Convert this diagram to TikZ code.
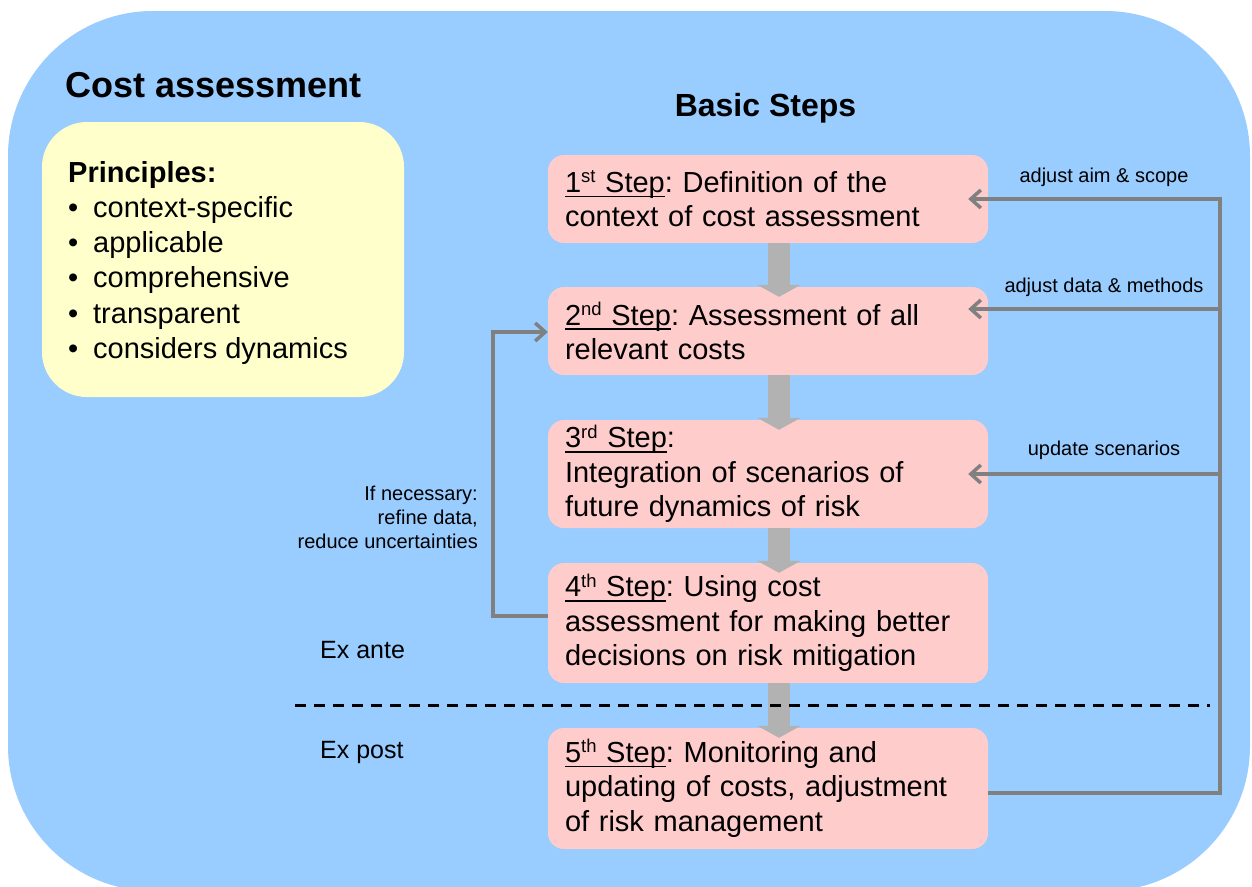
\documentclass[tikz,border=0pt]{standalone}
\usepackage{fontspec}
\setmainfont{Liberation Sans}
\usetikzlibrary{arrows.meta,calc}
\definecolor{bgblue}{HTML}{99CCFF}
\definecolor{boxpink}{HTML}{FFCCCC}
\definecolor{boxyellow}{HTML}{FFFFCC}
\definecolor{thickgray}{HTML}{B2B2B2}
\definecolor{conngray}{HTML}{808080}
\frenchspacing
\newcommand\stepul[1]{\setbox0\hbox{#1}\rlap{\rule[-5pt]{\wd0}{1.8pt}}\box0}
\newcommand\stepsup[1]{\raisebox{9.5pt}{\fontsize{18.5}{18.5}\selectfont #1}}
\begin{document}
\begin{tikzpicture}[x=1pt,y=-1pt,
  stepbox/.style={fill=boxpink, rounded corners=16pt, minimum width=440pt, text width=406pt,
    inner xsep=17pt, inner ysep=0pt, align=left, font=\fontsize{29}{34.5}\selectfont},
  bigarrow/.style={draw=thickgray, line width=22pt, -{Triangle[width=43pt,length=12pt]}},
  conn/.style={draw=conngray, line width=3.5pt},
  connarrow/.style={conn, -{Straight Barb[length=10pt,width=18pt]}},
  lbl/.style={font=\fontsize{20}{24}\selectfont, inner sep=0pt},
  plain/.style={inner sep=0pt},
  item/.style={anchor=base west, inner sep=0pt, font=\fontsize{29}{35}\selectfont},
]
\useasboundingbox (0,0) rectangle (1252,886);
\begin{scope}
  \clip (0,0) rectangle (1252,886);
  \fill[bgblue, rounded corners=145pt] (8,11) rectangle (1250,891);
\end{scope}

% principles box
\fill[boxyellow, rounded corners=45pt] (42,122) rectangle (404,397);
\node[item, font=\bfseries\fontsize{29}{35}\selectfont] (p0) at (68,182) {Principles:};
\node[item] (p1) at (68,217.3) {\makebox[25pt][l]{\textbullet}context-specific};
\node[item] (p2) at (68,252.6) {\makebox[25pt][l]{\textbullet}applicable};
\node[item] (p3) at (68,287.9) {\makebox[25pt][l]{\textbullet}comprehensive};
\node[item] (p4) at (68,323.2) {\makebox[25pt][l]{\textbullet}transparent};
\node[item] (p5) at (68,358.5) {\makebox[25pt][l]{\textbullet}considers dynamics};

% titles
\node[plain, anchor=base west, font=\bfseries\fontsize{36}{40}\selectfont] (title) at (65,97) {Cost assessment};
\node[plain, anchor=base, font=\bfseries\fontsize{32}{36}\selectfont] (basic) at (765.5,116) {Basic Steps};

% step boxes
\node[stepbox, minimum height=88pt] (s1) at (768,199)
  {\stepul{1\stepsup{st} Step}: Definition of the\\context of cost assessment};
\node[stepbox, minimum height=88pt] (s2) at (768,331)
  {\stepul{2\stepsup{nd} Step}: Assessment of all\\relevant costs};
\node[stepbox, minimum height=108pt] (s3) at (768,474)
  {\stepul{3\stepsup{rd} Step}:\\Integration of scenarios of\\future dynamics of risk};
\node[stepbox, minimum height=120pt] (s4) at (768,623)
  {\stepul{4\stepsup{th} Step}: Using cost\\assessment for making better\\decisions on risk mitigation};
\node[stepbox, minimum height=121pt] (s5) at (768,788.5)
  {\stepul{5\stepsup{th} Step}: Monitoring and\\updating of costs, adjustment\\of risk management};

% thick arrows
\draw[bigarrow] ([xshift=11pt]s1.south) -- ([xshift=11pt,yshift=-10pt]s2.north);
\draw[bigarrow] ([xshift=11pt]s2.south) -- ([xshift=11pt,yshift=-10pt]s3.north);
\draw[bigarrow] ([xshift=11pt]s3.south) -- ([xshift=11pt,yshift=-10pt]s4.north);
\draw[bigarrow] ([xshift=11pt]s4.south) -- ([xshift=11pt,yshift=-10pt]s5.north);

% right feedback bus
\coordinate (r1) at (1220,199);
\coordinate (r2) at (1220,309);
\coordinate (r3) at (1220,474);
\coordinate (r5) at (1220,793);
\draw[connarrow] (s5.east |- r5) -- (r5) -- (r1) -- ($(s1.east |- r1)+(-20,0)$);
\draw[connarrow] (r2) -- ($(s2.east |- r2)+(-20,0)$);
\draw[connarrow] (r3) -- ($(s3.east |- r3)+(-20,0)$);

% left loop
\coordinate (l4) at (493,616);
\coordinate (l2) at (493,332);
\draw[connarrow] (s4.west |- l4) -- (l4) -- (l2) -- (s2.west |- l2);

% dashed separator
\coordinate (d1) at (295,705);
\coordinate (d2) at (1210,705);
\draw[black, line width=3pt, dash pattern=on 11pt off 8pt] (d1) -- (d2);

% labels
\node[lbl, anchor=base] (la1) at (1104,182) {adjust aim \& scope};
\node[lbl, anchor=base] (la2) at (1104,292) {adjust data \& methods};
\node[lbl, anchor=base] (la3) at (1104,455) {update scenarios};
\node[lbl, anchor=base east] (ln1) at (478,500) {If necessary:};
\node[lbl, anchor=base east] (ln2) at (478,524) {refine data,};
\node[lbl, anchor=base east] (ln3) at (478,548) {reduce uncertainties};
\node[plain, anchor=base west, font=\fontsize{25}{30}\selectfont] (exa) at (320,658) {Ex ante};
\node[plain, anchor=base west, font=\fontsize{25}{30}\selectfont] (exp) at (320,758) {Ex post};
\end{tikzpicture}
\end{document}
